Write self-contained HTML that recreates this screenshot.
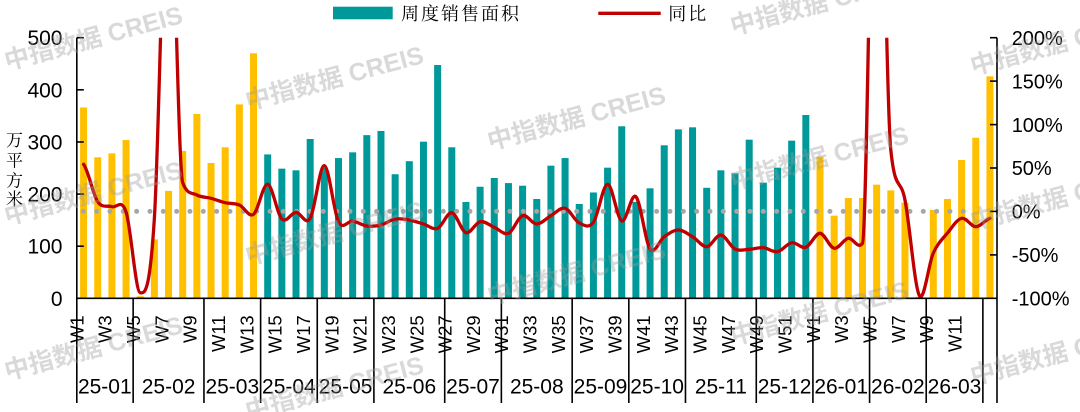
<!DOCTYPE html>
<html>
<head>
<meta charset="utf-8">
<style>
  html, body { margin: 0; padding: 0; background: #ffffff; }
  body { width: 1080px; height: 412px; overflow: hidden; }
  svg { display: block; }
  .lat { font-family: "Liberation Sans", Arial, sans-serif; fill: #000; }
  .cjk { font-family: "Liberation Serif", "Noto Serif CJK SC", serif; fill: #000; }
</style>
</head>
<body>
<svg width="1080" height="412" viewBox="0 0 1080 412" xmlns="http://www.w3.org/2000/svg">
  <defs>
    <clipPath id="plotclip"><rect x="60" y="37.7" width="950" height="280"/></clipPath>
  </defs>
  <rect x="0" y="0" width="1080" height="412" fill="#ffffff"/>

  <!-- bars -->
  <g transform="translate(80.08 298.3) scale(14.162 -0.5213)">
    <g fill="#FFC000">
      <rect x="0" y="0" width="0.4943" height="366"/>
      <rect x="1" y="0" width="0.4943" height="270.5"/>
      <rect x="2" y="0" width="0.4943" height="278"/>
      <rect x="3" y="0" width="0.4943" height="303.7"/>
      <rect x="4" y="0" width="0.4943" height="4"/>
      <rect x="5" y="0" width="0.4943" height="113"/>
      <rect x="6" y="0" width="0.4943" height="206"/>
      <rect x="7" y="0" width="0.4943" height="282.6"/>
      <rect x="8" y="0" width="0.4943" height="353.5"/>
      <rect x="9" y="0" width="0.4943" height="259.5"/>
      <rect x="10" y="0" width="0.4943" height="289.7"/>
      <rect x="11" y="0" width="0.4943" height="372"/>
      <rect x="12" y="0" width="0.4943" height="470"/>
      <rect x="52" y="0" width="0.4943" height="271.6"/>
      <rect x="53" y="0" width="0.4943" height="158.5"/>
      <rect x="54" y="0" width="0.4943" height="192.4"/>
      <rect x="55" y="0" width="0.4943" height="192.4"/>
      <rect x="56" y="0" width="0.4943" height="218"/>
      <rect x="57" y="0" width="0.4943" height="207"/>
      <rect x="58" y="0" width="0.4943" height="183.4"/>
      <rect x="59" y="0" width="0.4943" height="3"/>
      <rect x="60" y="0" width="0.4943" height="169.4"/>
      <rect x="61" y="0" width="0.4943" height="190.5"/>
      <rect x="62" y="0" width="0.4943" height="265.3"/>
      <rect x="63" y="0" width="0.4943" height="308"/>
      <rect x="64" y="0" width="0.4943" height="425.8"/>
    </g>
    <g fill="#009999">
      <rect x="13" y="0" width="0.4943" height="276"/>
      <rect x="14" y="0" width="0.4943" height="248.7"/>
      <rect x="15" y="0" width="0.4943" height="245.5"/>
      <rect x="16" y="0" width="0.4943" height="305.6"/>
      <rect x="17" y="0" width="0.4943" height="250"/>
      <rect x="18" y="0" width="0.4943" height="269"/>
      <rect x="19" y="0" width="0.4943" height="280"/>
      <rect x="20" y="0" width="0.4943" height="313"/>
      <rect x="21" y="0" width="0.4943" height="321"/>
      <rect x="22" y="0" width="0.4943" height="238"/>
      <rect x="23" y="0" width="0.4943" height="263"/>
      <rect x="24" y="0" width="0.4943" height="300.5"/>
      <rect x="25" y="0" width="0.4943" height="447.5"/>
      <rect x="26" y="0" width="0.4943" height="289.7"/>
      <rect x="27" y="0" width="0.4943" height="184.7"/>
      <rect x="28" y="0" width="0.4943" height="214"/>
      <rect x="29" y="0" width="0.4943" height="230.8"/>
      <rect x="30" y="0" width="0.4943" height="221"/>
      <rect x="31" y="0" width="0.4943" height="216"/>
      <rect x="32" y="0" width="0.4943" height="190.5"/>
      <rect x="33" y="0" width="0.4943" height="254.4"/>
      <rect x="34" y="0" width="0.4943" height="269"/>
      <rect x="35" y="0" width="0.4943" height="181"/>
      <rect x="36" y="0" width="0.4943" height="203"/>
      <rect x="37" y="0" width="0.4943" height="250.6"/>
      <rect x="38" y="0" width="0.4943" height="330"/>
      <rect x="39" y="0" width="0.4943" height="185"/>
      <rect x="40" y="0" width="0.4943" height="211"/>
      <rect x="41" y="0" width="0.4943" height="293.5"/>
      <rect x="42" y="0" width="0.4943" height="324"/>
      <rect x="43" y="0" width="0.4943" height="328"/>
      <rect x="44" y="0" width="0.4943" height="212"/>
      <rect x="45" y="0" width="0.4943" height="245.5"/>
      <rect x="46" y="0" width="0.4943" height="239.8"/>
      <rect x="47" y="0" width="0.4943" height="304.3"/>
      <rect x="48" y="0" width="0.4943" height="221.8"/>
      <rect x="49" y="0" width="0.4943" height="250.6"/>
      <rect x="50" y="0" width="0.4943" height="302.4"/>
      <rect x="51" y="0" width="0.4943" height="351.6"/>
    </g>
  </g>

  <!-- zero dotted line -->
  <line x1="83.3" y1="211.4" x2="963.3" y2="211.4" stroke="#A6A6A6" stroke-width="5" stroke-linecap="round" stroke-dasharray="0 13.333"/>

  <!-- YoY line -->
  <g clip-path="url(#plotclip)">
    <path fill="none" stroke="#C00000" stroke-width="3.3" stroke-linejoin="round" stroke-linecap="round"
      d="M83.58,164.3 C88.30,170.53 93.02,194.63 97.74,201.7
      S107.18,204.98 111.90,206.7
      S121.35,197.67 126.07,212
      S135.51,291.7 140.23,292.7
      S149.67,293.45 154.39,218
      S163.83,-154.12 168.55,-160
      S177.99,170 182.71,182.7
      S192.16,192.4 196.88,195
      S206.32,197.02 211.04,198.3
      S220.48,201.58 225.20,202.7
      S234.64,203.07 239.36,205
      S248.80,217.75 253.52,214.3
      S262.97,183.52 267.69,184.3
      S277.13,214.33 281.85,219
      S291.29,212.42 296.01,212.3
      S305.45,226.07 310.17,218.3
      S319.61,165.13 324.33,165.7
      S333.78,212.48 338.50,221.7
      S347.94,220.28 352.66,221
      S362.10,225.33 366.82,226
      S376.26,226.17 380.98,225
      S390.42,219.83 395.14,219
      S404.59,219.17 409.31,220
      S418.75,222.62 423.47,224
      S432.91,230.18 437.63,228.3
      S447.07,211.97 451.79,212.7
      S461.23,231.2 465.95,232.7
      S475.40,222.6 480.12,221.7
      S489.56,225.37 494.28,227.3
      S503.72,235.23 508.44,233.3
      S517.88,217.25 522.60,215.7
      S532.04,224 536.76,224
      S546.21,218.32 550.93,215.7
      S560.37,207.08 565.09,208.3
      S574.53,220.67 579.25,223
      S588.69,228.75 593.41,222.3
      S602.85,184.52 607.57,184.3
      S617.02,218.93 621.74,221
      S631.18,192.03 635.90,196.7
      S645.34,242.33 650.06,249
      S659.50,239.87 664.22,236.7
      S673.66,230 678.38,230
      S687.83,233.92 692.55,236.7
      S701.99,246.98 706.71,246.7
      S716.15,234.62 720.87,235
      S730.31,246.62 735.03,249
      S744.47,249.52 749.19,249.3
      S758.64,247.3 763.36,247.7
      S772.80,252.53 777.52,251.7
      S786.96,243.43 791.68,242.7
      S801.12,248.87 805.84,247.3
      S815.28,233.13 820.00,233.3
      S829.45,247.47 834.17,248.3
      S843.61,239.13 848.33,238.3
      S857.77,250 862.49,243.3
      S871.93,-282.78 876.65,-298
      S886.09,105 890.81,150
      S900.26,175.8 904.98,200
      S914.42,285 919.14,295
      S928.58,263.33 933.30,253
      S942.74,238.78 947.46,233
      S956.90,219.35 961.62,218.3
      S971.07,226.7 975.79,226.7
      S985.23,219.7 989.95,218.3"/>
  </g>

  <!-- axes -->
  <g stroke="#000" stroke-width="1.6" fill="none">
    <line x1="76.8" y1="37.7" x2="76.8" y2="403"/>
    <line x1="997" y1="37.7" x2="997" y2="403"/>
    <line x1="76.8" y1="298.3" x2="997" y2="298.3"/>
    <line x1="76.8" y1="37.7" x2="83.8" y2="37.7"/>
    <line x1="76.8" y1="89.8" x2="83.8" y2="89.8"/>
    <line x1="76.8" y1="142" x2="83.8" y2="142"/>
    <line x1="76.8" y1="194.1" x2="83.8" y2="194.1"/>
    <line x1="76.8" y1="246.2" x2="83.8" y2="246.2"/>
    <line x1="990" y1="37.7" x2="997" y2="37.7"/>
    <line x1="990" y1="81.1" x2="997" y2="81.1"/>
    <line x1="990" y1="124.6" x2="997" y2="124.6"/>
    <line x1="990" y1="168" x2="997" y2="168"/>
    <line x1="990" y1="211.4" x2="997" y2="211.4"/>
    <line x1="990" y1="254.9" x2="997" y2="254.9"/>
    <line x1="133.15" y1="298.3" x2="133.15" y2="403"/>
    <line x1="203.96" y1="298.3" x2="203.96" y2="403"/>
    <line x1="260.61" y1="298.3" x2="260.61" y2="403"/>
    <line x1="317.25" y1="298.3" x2="317.25" y2="403"/>
    <line x1="373.90" y1="298.3" x2="373.90" y2="403"/>
    <line x1="444.71" y1="298.3" x2="444.71" y2="403"/>
    <line x1="501.36" y1="298.3" x2="501.36" y2="403"/>
    <line x1="572.17" y1="298.3" x2="572.17" y2="403"/>
    <line x1="628.82" y1="298.3" x2="628.82" y2="403"/>
    <line x1="685.47" y1="298.3" x2="685.47" y2="403"/>
    <line x1="756.28" y1="298.3" x2="756.28" y2="403"/>
    <line x1="812.92" y1="298.3" x2="812.92" y2="403"/>
    <line x1="869.57" y1="298.3" x2="869.57" y2="403"/>
    <line x1="926.22" y1="298.3" x2="926.22" y2="403"/>
    <line x1="982.87" y1="298.3" x2="982.87" y2="403"/>
  </g>

  <!-- left axis labels -->
  <g class="lat" font-size="21" text-anchor="end">
    <text x="62.5" y="45.2">500</text>
    <text x="62.5" y="97.3">400</text>
    <text x="62.5" y="149.5">300</text>
    <text x="62.5" y="201.6">200</text>
    <text x="62.5" y="253.7">100</text>
    <text x="62.5" y="305.8">0</text>
  </g>

  <!-- right axis labels -->
  <g class="lat" font-size="20">
    <text x="1011.7" y="44.9">200%</text>
    <text x="1011.7" y="88.3">150%</text>
    <text x="1011.7" y="131.8">100%</text>
    <text x="1011.7" y="175.2">50%</text>
    <text x="1011.7" y="218.6">0%</text>
    <text x="1011.7" y="262.1">-50%</text>
    <text x="1011.7" y="305.5">-100%</text>
  </g>

  <!-- y axis title -->
  <g class="cjk" font-size="17" text-anchor="middle">
    <text x="14.5" y="146">万</text>
    <text x="14.5" y="166.5">平</text>
    <text x="14.5" y="186.5">方</text>
    <text x="14.5" y="205">米</text>
  </g>

  <!-- week labels -->
  <g class="lat" font-size="18.5" text-anchor="end">
    <text transform="translate(83.4 315.3) rotate(-90)">W1</text>
    <text transform="translate(111.7 315.3) rotate(-90)">W3</text>
    <text transform="translate(140.0 315.3) rotate(-90)">W5</text>
    <text transform="translate(168.35 315.3) rotate(-90)">W7</text>
    <text transform="translate(196.7 315.3) rotate(-90)">W9</text>
    <text transform="translate(225.0 315.3) rotate(-90)">W11</text>
    <text transform="translate(253.3 315.3) rotate(-90)">W13</text>
    <text transform="translate(281.65 315.3) rotate(-90)">W15</text>
    <text transform="translate(310.0 315.3) rotate(-90)">W17</text>
    <text transform="translate(338.3 315.3) rotate(-90)">W19</text>
    <text transform="translate(366.6 315.3) rotate(-90)">W21</text>
    <text transform="translate(394.9 315.3) rotate(-90)">W23</text>
    <text transform="translate(423.3 315.3) rotate(-90)">W25</text>
    <text transform="translate(451.6 315.3) rotate(-90)">W27</text>
    <text transform="translate(479.9 315.3) rotate(-90)">W29</text>
    <text transform="translate(508.2 315.3) rotate(-90)">W31</text>
    <text transform="translate(536.6 315.3) rotate(-90)">W33</text>
    <text transform="translate(564.9 315.3) rotate(-90)">W35</text>
    <text transform="translate(593.2 315.3) rotate(-90)">W37</text>
    <text transform="translate(621.5 315.3) rotate(-90)">W39</text>
    <text transform="translate(649.9 315.3) rotate(-90)">W41</text>
    <text transform="translate(678.2 315.3) rotate(-90)">W43</text>
    <text transform="translate(706.5 315.3) rotate(-90)">W45</text>
    <text transform="translate(734.8 315.3) rotate(-90)">W47</text>
    <text transform="translate(763.2 315.3) rotate(-90)">W49</text>
    <text transform="translate(791.5 315.3) rotate(-90)">W51</text>
    <text transform="translate(819.8 315.3) rotate(-90)">W1</text>
    <text transform="translate(848.1 315.3) rotate(-90)">W3</text>
    <text transform="translate(876.5 315.3) rotate(-90)">W5</text>
    <text transform="translate(904.8 315.3) rotate(-90)">W7</text>
    <text transform="translate(933.1 315.3) rotate(-90)">W9</text>
    <text transform="translate(961.4 315.3) rotate(-90)">W11</text>
  </g>

  <!-- month labels -->
  <g class="lat" font-size="21" text-anchor="middle">
    <text x="104.8" y="393.3">25-01</text>
    <text x="168.6" y="393.3">25-02</text>
    <text x="232.3" y="393.3">25-03</text>
    <text x="288.9" y="393.3">25-04</text>
    <text x="345.6" y="393.3">25-05</text>
    <text x="409.3" y="393.3">25-06</text>
    <text x="473.0" y="393.3">25-07</text>
    <text x="536.8" y="393.3">25-08</text>
    <text x="600.5" y="393.3">25-09</text>
    <text x="657.1" y="393.3">25-10</text>
    <text x="720.9" y="393.3">25-11</text>
    <text x="784.6" y="393.3">25-12</text>
    <text x="841.2" y="393.3">26-01</text>
    <text x="897.9" y="393.3">26-02</text>
    <text x="954.5" y="393.3">26-03</text>
  </g>

  <!-- legend -->
  <rect x="333" y="6.7" width="59.7" height="12.6" fill="#009999"/>
  <text class="cjk" x="401" y="19.8" font-size="18" letter-spacing="2">周度销售面积</text>
  <line x1="598.3" y1="13.3" x2="660.7" y2="13.3" stroke="#C00000" stroke-width="3.3"/>
  <text class="cjk" x="668.3" y="19.8" font-size="18" letter-spacing="2">同比</text>

  <!-- watermarks -->
  <g font-family="'Liberation Sans', 'Noto Sans CJK SC', sans-serif" font-size="25" font-weight="bold" fill="#9a9a9a" fill-opacity="0.38">
    <text transform="translate(7 70) rotate(-15)">中指数据 CREIS</text>
    <text transform="translate(7 225) rotate(-15)">中指数据 CREIS</text>
    <text transform="translate(7 380) rotate(-15)">中指数据 CREIS</text>
    <text transform="translate(248 110) rotate(-15)">中指数据 CREIS</text>
    <text transform="translate(248 265) rotate(-15)">中指数据 CREIS</text>
    <text transform="translate(248 420) rotate(-15)">中指数据 CREIS</text>
    <text transform="translate(490 150) rotate(-15)">中指数据 CREIS</text>
    <text transform="translate(490 305) rotate(-15)">中指数据 CREIS</text>
    <text transform="translate(733 35) rotate(-15)">中指数据 CREIS</text>
    <text transform="translate(733 190) rotate(-15)">中指数据 CREIS</text>
    <text transform="translate(733 345) rotate(-15)">中指数据 CREIS</text>
    <text transform="translate(973 75) rotate(-15)">中指数据 CREIS</text>
    <text transform="translate(973 230) rotate(-15)">中指数据 CREIS</text>
    <text transform="translate(973 385) rotate(-15)">中指数据 CREIS</text>
  </g>
</svg>
</body>
</html>
